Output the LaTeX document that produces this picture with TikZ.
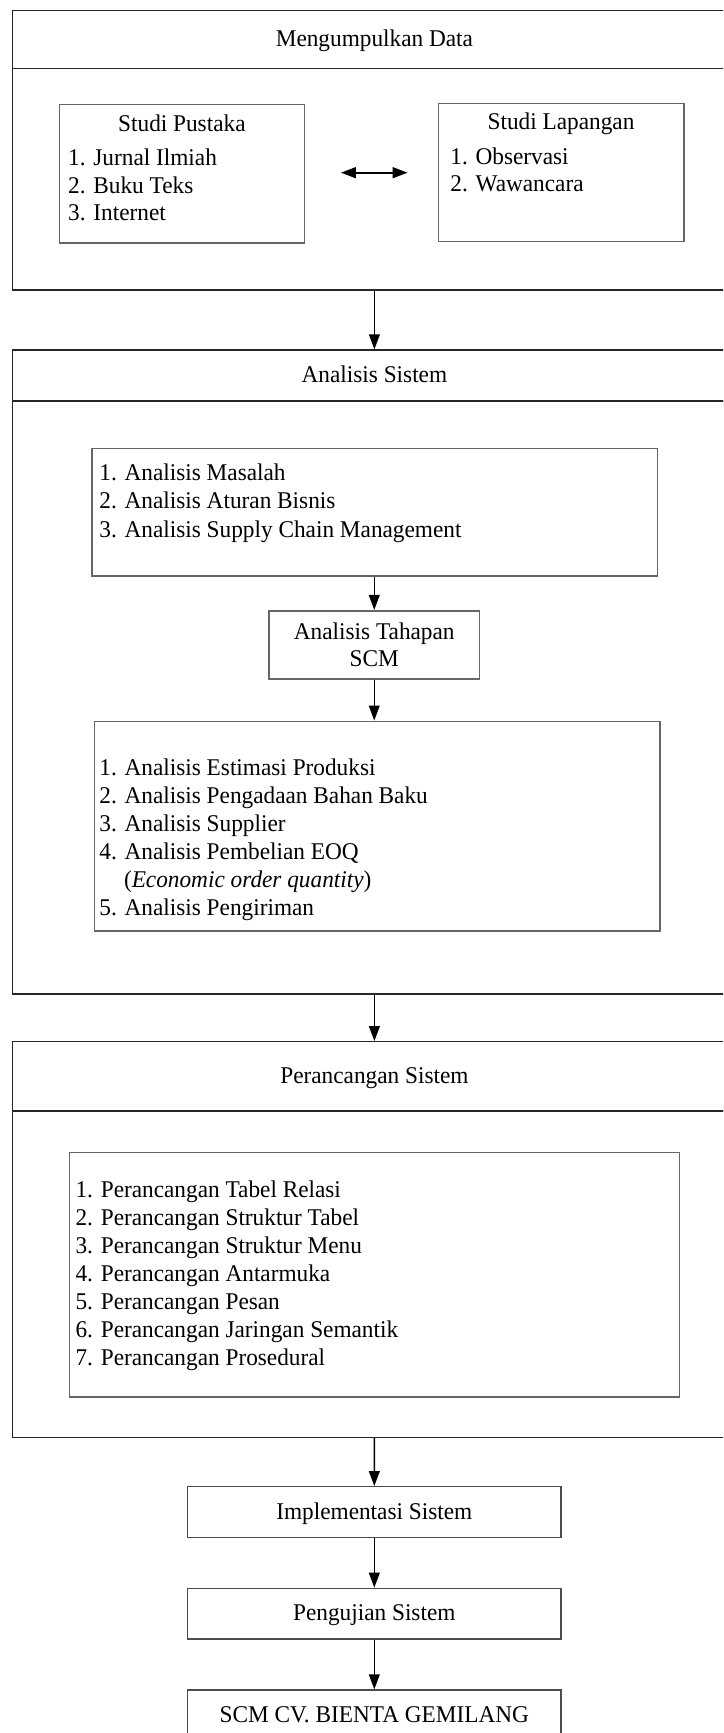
\documentclass[tikz,border=0pt]{standalone}
\usepackage{fontspec}
\setmainfont{Liberation Serif}[FakeStretch=0.97]
\usepackage{tikz}
\usetikzlibrary{arrows.meta, positioning}

\begin{document}
\begin{tikzpicture}[>={Triangle[length=7.5pt, width=5.4pt]}, x=0.5pt, y=-0.5pt,
    font=\fontsize{12pt}{13.5pt}\selectfont,
    outer/.style={draw=black!85, line width=0.65pt, minimum width=361.9pt, inner sep=0pt, text height=9pt, text depth=2pt},
    inbox/.style={draw=black!60, line width=0.8pt, inner sep=0pt},
    stepbox/.style={draw=black!70, line width=0.7pt, minimum width=186.7pt, minimum height=25.3pt, inner sep=0pt, text height=9pt, text depth=2pt},
    item/.style={anchor=base west, inner sep=0pt},
    flow/.style={->, line width=0.75pt}]
    % 0. Bidang gambar (dipotong seperti aslinya)
    \useasboundingbox (0,0) rectangle (723,1733);
    \clip (0,0) rectangle (723,1733);

    % 1. Mengumpulkan Data
    \node[outer, minimum height=29.2pt] (head1) at (374.4,39.5) {Mengumpulkan Data};
    \node[outer, minimum height=110.65pt] (body1) at (374.4,179.35) {};
    \node[inbox, minimum width=122.4pt, minimum height=69.3pt] (pustaka) at (181.9,174) {};
    \node[inbox, minimum width=122.65pt, minimum height=69pt] (lapangan) at (561.05,172.7) {};
    \node[anchor=base, inner sep=0pt] (pustakatitle) at (181.9,131.7) {Studi Pustaka};
    \node[anchor=base, inner sep=0pt] (lapangantitle) at (561.05,130) {Studi Lapangan};
    \foreach \t [count=\i] in {Jurnal Ilmiah, Buku Teks, Internet}
      \node[item] (pus\i) at (67.8,{165.7+(\i-1)*27.5}) {\i. \t};
    \foreach \t [count=\i] in {Observasi, Wawancara}
      \node[item] (lap\i) at (450,{164.3+(\i-1)*27.5}) {\i. \t};
    \draw[<->, line width=1pt, shorten <=17.9pt, shorten >=15pt] (pustaka.east |- lapangan.west) -- (lapangan.west);

    % 2. Analisis Sistem
    \node[outer, minimum height=25.5pt] (head2) at (374.4,375.5) {Analisis Sistem};
    \node[outer, minimum height=296.5pt] (body2) at (374.4,697.5) {};
    \node[inbox, minimum width=282.9pt, minimum height=63.7pt] (boxA) at (374.6,512) {};
    \foreach \t [count=\i] in {Analisis Masalah, Analisis Aturan Bisnis, Analisis Supply Chain Management}
      \node[item] (ana\i) at (99,{480.5+(\i-1)*28.4}) {\i. \t};
    \node[inbox, minimum width=105.25pt, minimum height=34.15pt, align=center] (tahap) at (374.25,644.85) {Analisis Tahapan\\SCM};
    \node[inbox, minimum width=282.85pt, minimum height=104.7pt] (boxB) at (377.35,826) {};
    \foreach \t [count=\i] in {Analisis Estimasi Produksi, Analisis Pengadaan Bahan Baku, Analisis Supplier, Analisis Pembelian EOQ}
      \node[item] (scm\i) at (99,{775+(\i-1)*28}) {\i. \t};
    \node[item] (eoq) at (123.6,887.3) {(\textit{Economic order quantity})};
    \node[item] (scm5) at (99,915) {5. Analisis Pengiriman};

    % 3. Perancangan Sistem
    \node[outer, minimum height=34.65pt] (head3) at (374.4,1076.35) {Perancangan Sistem};
    \node[outer, minimum height=163.15pt] (body3) at (374.4,1274.15) {};
    \node[inbox, minimum width=305pt, minimum height=122.2pt] (boxC) at (374.6,1274.5) {};
    \foreach \t [count=\i] in {Perancangan Tabel Relasi, Perancangan Struktur Tabel, Perancangan Struktur Menu, Perancangan Antarmuka, Perancangan Pesan, Perancangan Jaringan Semantik, Perancangan Prosedural}
      \node[item] (ran\i) at (75.2,{1197.3+(\i-1)*28}) {\i. \t};

    % 4. Tahap akhir
    \node[stepbox] (impl) at (374.3,1512) {Implementasi Sistem};
    \node[stepbox] (uji) at (374.3,1613.65) {Pengujian Sistem};
    \node[stepbox] (scmcv) at (374.3,1715.35) {SCM CV. BIENTA GEMILANG};

    % 5. Panah antar tahap
    \draw[flow] (body1) -- (head2);
    \draw[flow] (boxA.south -| tahap.north) -- (tahap.north);
    \draw[flow] (tahap.south) -- (tahap.south |- boxB.north);
    \draw[flow] (body2) -- (head3);
    \draw[flow] (body3) -- (impl);
    \draw[flow] (impl) -- (uji);
    \draw[flow] (uji) -- (scmcv);
\end{tikzpicture}
\end{document}
